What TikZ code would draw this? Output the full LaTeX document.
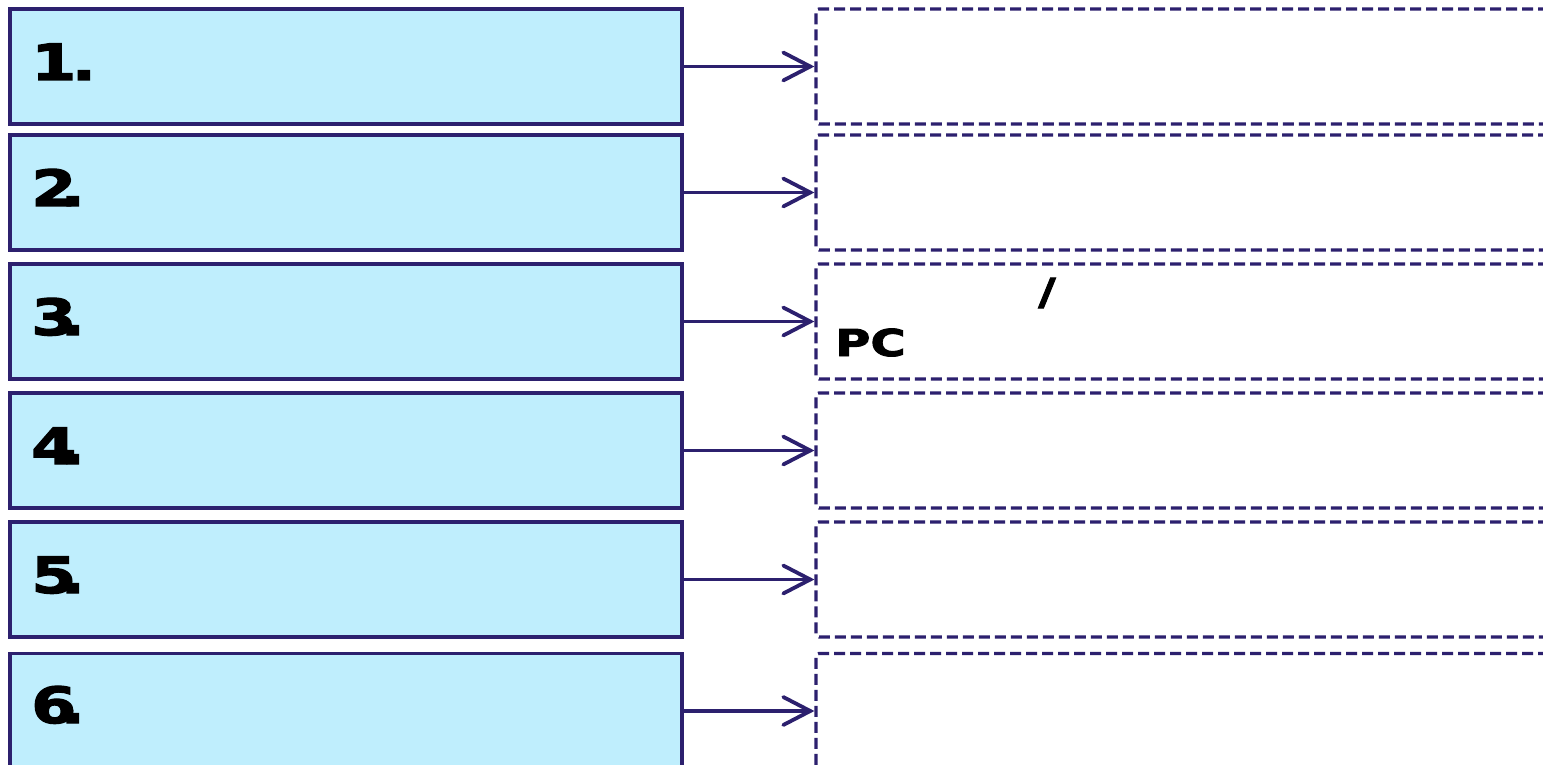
\documentclass[tikz,border=0pt]{standalone}
\usepackage{fontspec}
\usetikzlibrary{arrows.meta}
\newfontfamily\numfont[FakeStretch=1.3,FakeBold=2.5]{DejaVu Sans}
\definecolor{boxfill}{RGB}{191,238,253}
\definecolor{navy}{RGB}{44,32,110}
\tikzset{
  stepbox/.style={draw=navy, fill=boxfill, line width=3.6pt, rectangle,
    minimum width=672pt, minimum height=115pt, inner sep=0pt},
  notebox/.style={draw=navy, line width=3.2pt, dash pattern=on 11pt off 5pt,
    rounded corners=3pt, rectangle, minimum width=784pt, minimum height=115pt,
    inner sep=0pt},
  link/.style={draw=navy, line width=3.8pt,
    -{Straight Barb[length=27pt,width=28pt,line cap=round]}},
  numlabel/.style={anchor=base west, inner sep=0pt,
    font=\numfont\bfseries\fontsize{50}{50}\selectfont},
  notelabel/.style={inner sep=0pt, font=\numfont\bfseries\fontsize{37}{37}\selectfont}
}
\begin{document}
\begin{tikzpicture}[x=1pt,y=-1pt]
  \path[use as bounding box] (0,0) rectangle (1543,765);
  \clip (0,0) rectangle (1543,765);
  \fill[white] (0,0) rectangle (1543,765);

  % step boxes on the left, note boxes on the right
  \foreach \i/\y in {1/66.5, 2/192.5, 3/321.5, 4/450.5, 5/579.5, 6/711} {
    \node[stepbox] (l\i) at (346,\y) {};
    \node[notebox] (r\i) at (1208,\y) {};
    \draw[link] (l\i.east) -- (r\i.west);
  }

  % step numbers
  \node[numlabel] (n1) at (31,80) {1\kern-.1em.};
  \node[numlabel] (n2) at (31,206) {2\kern-.32em.};
  \node[numlabel] (n3) at (31,335) {3\kern-.32em.};
  \node[numlabel] (n4) at (31,464) {4\kern-.32em.};
  \node[numlabel] (n5) at (31,593) {5\kern-.32em.};
  \node[numlabel] (n6) at (31,723) {6\kern-.32em.};

  % text in the third note box
  \node[notelabel, anchor=base west] (pc) at (835,356) {PC};
  \node[notelabel] (slash) at (1047,293) {/};
\end{tikzpicture}
\end{document}
